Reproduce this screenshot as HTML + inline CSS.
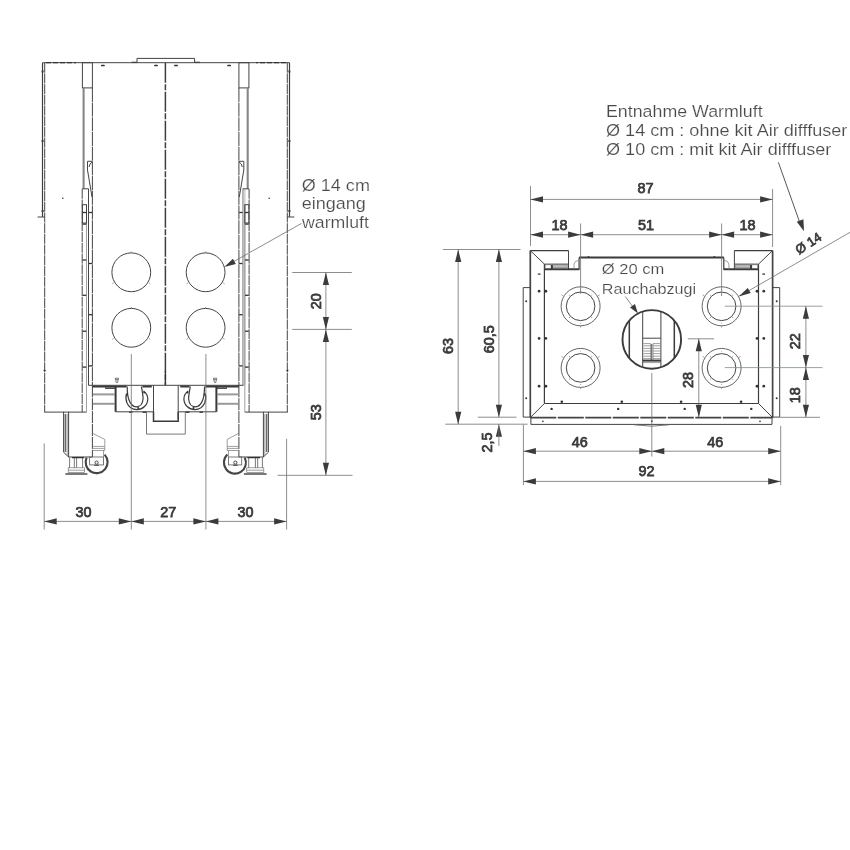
<!DOCTYPE html>
<html lang="de"><head><meta charset="utf-8"><title>Maßzeichnung</title>
<style>
html,body{margin:0;padding:0;background:#fff;overflow:hidden;}
svg{display:block;}
.m{stroke:#444;stroke-width:1.0;fill:none;}
.m2{stroke:#3c3c3c;stroke-width:1.2;fill:none;}
.r{stroke:#444;stroke-width:1.7;fill:none;}
.g{stroke:#777;stroke-width:0.7;fill:none;}
.g1{stroke:#6a6a6a;stroke-width:0.9;fill:none;}
.gb{stroke:#878787;stroke-width:2.1;fill:none;}
.gf{stroke:#666;stroke-width:0.6;fill:#bbb;}
.k{stroke:#333;stroke-width:1.3;fill:none;}
.kb{stroke:#3a3a3a;stroke-width:2;fill:none;}
.kb2{stroke:#3a3a3a;stroke-width:1.5;fill:none;}
.c{stroke:#444;stroke-width:1.0;fill:none;}
.c1{stroke:#555;stroke-width:0.9;fill:none;}
.band{fill:#d2d2d2;stroke:none;}
.fb{stroke:#6a6a6a;stroke-width:1.6;fill:none;}
.rail{stroke:#9a9a9a;stroke-width:2;fill:none;}
.u{stroke:#3c3c3c;stroke-width:1.2;fill:none;}
.w{stroke:#444;stroke-width:2.1;fill:none;}
.fl{stroke:#3a3a3a;stroke-width:1.9;fill:none;}
.d{fill:#333;stroke:none;}
.dd{stroke:#333;stroke-width:1.7;stroke-linecap:round;fill:none;}
.cl{stroke:#3c3c3c;stroke-width:1.5;fill:none;}
.e{stroke:#707070;stroke-width:0.8;fill:none;}
.e2{stroke:#444;stroke-width:0.9;fill:none;}
.eb{stroke:#7c8c96;stroke-width:0.8;fill:none;}
.a{fill:#3a3a3a;stroke:none;}
text{font-family:"Liberation Sans",sans-serif;}
.n{font-size:14.4px;fill:#3a3a3a;stroke:#3a3a3a;stroke-width:0.75;}
.n2{font-size:13px;fill:#3a3a3a;stroke:#3a3a3a;stroke-width:0.7;}
.t{font-size:16.4px;fill:#4a4a4a;stroke:#fff;stroke-width:0.18;}
.t3{font-size:15px;fill:#4a4a4a;stroke:#fff;stroke-width:0.18;}
.t2{font-size:17.2px;fill:#4a4a4a;stroke:#fff;stroke-width:0.18;}
</style></head>
<body>
<svg width="850" height="850" viewBox="0 0 850 850">
<defs><filter id="soft" x="0" y="0" width="850" height="850" filterUnits="userSpaceOnUse"><feGaussianBlur stdDeviation="0.55"/></filter></defs>
<rect x="0" y="0" width="850" height="850" fill="#ffffff"/>
<g filter="url(#soft)">
<g id="front">
<path class="m" d="M137,62.7 V58.4 H194.6 V62.7"/>
<line class="k" x1="131.5" y1="62.4" x2="137.0" y2="62.4"/>
<line class="k" x1="194.6" y1="62.4" x2="200.0" y2="62.4"/>
<line class="m" x1="42.5" y1="62.7" x2="289.5" y2="62.7"/>
<line class="k" x1="46.0" y1="62.7" x2="76.0" y2="62.7" stroke-dasharray="5 2"/>
<line class="m2" x1="42.5" y1="62.7" x2="42.5" y2="217.0"/>
<line class="m" x1="37.6" y1="217.0" x2="44.7" y2="217.0"/>
<line class="m" x1="44.7" y1="62.7" x2="44.7" y2="412.1" stroke-dasharray="10 0.7"/>
<line class="kb" x1="41.6" y1="71.5" x2="43.6" y2="71.5"/>
<line class="kb" x1="41.6" y1="141.0" x2="43.6" y2="141.0"/>
<line class="kb" x1="41.6" y1="211.0" x2="43.6" y2="211.0"/>
<line class="k" x1="43.6" y1="370.5" x2="45.6" y2="370.5"/>
<line class="m" x1="44.2" y1="412.1" x2="86.5" y2="412.1"/>
<rect class="m" x="82.4" y="62.7" width="10.0" height="25.2"/>
<line class="gb" x1="83.6" y1="87.9" x2="83.6" y2="188.8"/>
<line class="m" x1="82.4" y1="188.8" x2="88.5" y2="188.8"/>
<line class="m" x1="88.5" y1="188.8" x2="88.5" y2="385.3"/>
<line class="m" x1="92.4" y1="87.9" x2="92.4" y2="385.3" stroke-dasharray="14 0.7"/>
<line class="m" x1="82.2" y1="188.8" x2="82.2" y2="412.1" stroke-dasharray="10 0.8"/>
<line class="g" x1="86.5" y1="204.7" x2="86.5" y2="412.1"/>
<rect class="m" x="82.4" y="204.7" width="4.1" height="18.3"/>
<path class="m" d="M87.5,161.3 H92.4 M87.5,161.3 V170 L92.0,197 M92.2,162 Q89.5,163.5 89.0,167"/>
<line class="k" x1="82.6" y1="212.5" x2="86.3" y2="212.5"/>
<line class="k" x1="82.6" y1="224.1" x2="86.3" y2="224.1"/>
<line class="k" x1="82.6" y1="260.0" x2="86.3" y2="260.0"/>
<line class="k" x1="82.6" y1="295.3" x2="86.3" y2="295.3"/>
<line class="k" x1="82.6" y1="331.2" x2="86.3" y2="331.2"/>
<line class="k" x1="82.6" y1="367.1" x2="86.3" y2="367.1"/>
<line class="k" x1="88.8" y1="212.5" x2="92.2" y2="212.5"/>
<line class="k" x1="88.8" y1="263.5" x2="92.2" y2="263.5"/>
<line class="k" x1="88.8" y1="314.7" x2="92.2" y2="314.7"/>
<line class="k" x1="88.8" y1="365.9" x2="92.2" y2="365.9"/>
<line class="dd" x1="101.8" y1="65.5" x2="104.0" y2="65.5"/>
<line class="dd" x1="154.9" y1="65.5" x2="157.1" y2="65.5"/>
<circle class="d" cx="62.8" cy="198.2" r="0.8"/>
<circle class="c" cx="131.3" cy="272.3" r="19.4"/>
<line class="g" x1="131.3" y1="252.9" x2="131.3" y2="251.4"/>
<line class="g" x1="148.9" y1="282.9" x2="150.3" y2="283.8"/>
<line class="g" x1="113.7" y1="282.9" x2="112.3" y2="283.8"/>
<circle class="c" cx="131.3" cy="327.8" r="19.4"/>
<line class="g" x1="131.3" y1="308.4" x2="131.3" y2="306.9"/>
<line class="g" x1="148.9" y1="338.4" x2="150.3" y2="339.3"/>
<line class="g" x1="113.7" y1="338.4" x2="112.3" y2="339.3"/>
<line class="m" x1="92.4" y1="385.3" x2="92.4" y2="457.0" stroke-dasharray="12 0.9"/>
<line class="rail" x1="93.0" y1="394.4" x2="114.5" y2="394.4"/>
<line class="rail" x1="93.0" y1="403.8" x2="114.5" y2="403.8"/>
<line class="kb" x1="115.6" y1="386.5" x2="115.6" y2="411.8"/>
<line class="kb" x1="92.4" y1="386.5" x2="126.6" y2="386.5"/>
<line class="k" x1="105.0" y1="388.2" x2="116.0" y2="388.2"/>
<line class="kb" x1="142.4" y1="386.5" x2="151.8" y2="386.5"/>
<line class="m" x1="115.6" y1="411.8" x2="153.5" y2="411.8"/>
<line class="k" x1="129.0" y1="412.2" x2="132.5" y2="412.2"/>
<line class="k" x1="142.5" y1="412.2" x2="146.5" y2="412.2"/>
<path class="g1" d="M115.2,378.2 H118.6 L117.5,382.6 H116.3 Z M115.6,379.6 H118.2"/>
<path class="u" d="M127.2,386.5 C127.2,392.0 127.6,396.0 128.8,399.5 C130.5,404.5 133.0,406.8 136.3,406.8 C139.8,406.8 142.6,404.0 143.0,399.5 C143.3,395.5 142.0,390.5 141.4,386.5"/>
<path class="u" d="M126.6,393.5 C125.6,396.5 125.8,400.0 127.0,403.0 C129.0,407.5 132.5,409.6 136.8,409.6 C142.8,409.6 147.8,405.0 147.8,398.8 C147.8,395.5 146.0,392.8 143.4,391.0"/>
<circle class="d" cx="138.2" cy="408.0" r="1.0"/>
<circle class="d" cx="127.1" cy="394.6" r="1.0"/>
<circle class="d" cx="144.2" cy="392.6" r="1.0"/>
<path class="m" d="M63.6,411.8 V452.2 L68.6,457 H92.4"/>
<line class="m" x1="68.6" y1="411.8" x2="68.6" y2="457.0"/>
<line class="fb" x1="65.4" y1="414.0" x2="65.4" y2="452.0"/>
<line class="g" x1="67.2" y1="414.0" x2="67.2" y2="455.0"/>
<path class="g" d="M92.4,433.2 L104.8,439.4 V450.5 H92.4"/>
<line class="g" x1="92.4" y1="446.4" x2="104.8" y2="446.4"/>
<line class="g" x1="92.4" y1="448.4" x2="104.8" y2="448.4"/>
<path class="w" d="M104.6,454.6 A11,11 0 1 1 86.6,457.6"/>
<rect class="g1" x="89.6" y="457.0" width="13.9" height="7.9" fill="#fff"/>
<line class="g" x1="103.5" y1="450.5" x2="103.5" y2="464.9"/>
<circle class="m" cx="96.6" cy="462.6" r="1.6"/>
<line class="m" x1="94.2" y1="465.3" x2="99.0" y2="465.3"/>
<line class="g1" x1="69.6" y1="457.4" x2="69.6" y2="468.0"/>
<line class="g1" x1="74.3" y1="457.4" x2="74.3" y2="468.0"/>
<line class="g1" x1="76.6" y1="457.4" x2="76.6" y2="468.0"/>
<line class="g1" x1="82.6" y1="457.4" x2="82.6" y2="468.0"/>
<rect class="g" x="68.2" y="467.8" width="16.4" height="4.6"/>
<line class="g" x1="68.2" y1="470.2" x2="84.6" y2="470.2"/>
<line class="k" x1="65.4" y1="474.0" x2="87.4" y2="474.0"/>
<line class="k" x1="72.0" y1="457.6" x2="84.0" y2="457.6"/>
<rect class="band" x="242.6" y="188.8" width="3.0" height="196.5"/>
<line class="k" x1="286.0" y1="62.7" x2="256.0" y2="62.7" stroke-dasharray="5 2"/>
<line class="m2" x1="289.5" y1="62.7" x2="289.5" y2="217.0"/>
<line class="m" x1="294.4" y1="217.0" x2="287.3" y2="217.0"/>
<line class="m" x1="287.3" y1="62.7" x2="287.3" y2="412.1" stroke-dasharray="10 0.7"/>
<line class="kb" x1="290.4" y1="71.5" x2="288.4" y2="71.5"/>
<line class="kb" x1="290.4" y1="141.0" x2="288.4" y2="141.0"/>
<line class="kb" x1="290.4" y1="211.0" x2="288.4" y2="211.0"/>
<line class="k" x1="288.4" y1="370.5" x2="286.4" y2="370.5"/>
<line class="m" x1="287.8" y1="412.1" x2="244.8" y2="412.1"/>
<rect class="m" x="238.9" y="62.7" width="10.0" height="25.2"/>
<line class="gb" x1="247.7" y1="87.9" x2="247.7" y2="188.8"/>
<line class="m" x1="248.9" y1="188.8" x2="242.8" y2="188.8"/>
<line class="g" x1="242.8" y1="188.8" x2="242.8" y2="385.3"/>
<line class="m" x1="238.9" y1="87.9" x2="238.9" y2="385.3" stroke-dasharray="14 0.7"/>
<line class="m" x1="249.1" y1="188.8" x2="249.1" y2="412.1" stroke-dasharray="10 0.8"/>
<line class="g" x1="244.8" y1="204.7" x2="244.8" y2="412.1"/>
<rect class="m" x="244.8" y="204.7" width="4.1" height="18.3"/>
<path class="m" d="M243.8,161.3 H238.9 M243.8,161.3 V170 L239.3,197 M239.1,162 Q241.8,163.5 242.3,167"/>
<line class="k" x1="248.7" y1="212.5" x2="245.0" y2="212.5"/>
<line class="k" x1="248.7" y1="224.1" x2="245.0" y2="224.1"/>
<line class="k" x1="248.7" y1="260.0" x2="245.0" y2="260.0"/>
<line class="k" x1="248.7" y1="295.3" x2="245.0" y2="295.3"/>
<line class="k" x1="248.7" y1="331.2" x2="245.0" y2="331.2"/>
<line class="k" x1="248.7" y1="367.1" x2="245.0" y2="367.1"/>
<line class="k" x1="242.5" y1="212.5" x2="239.1" y2="212.5"/>
<line class="k" x1="242.5" y1="263.5" x2="239.1" y2="263.5"/>
<line class="k" x1="242.5" y1="314.7" x2="239.1" y2="314.7"/>
<line class="k" x1="242.5" y1="365.9" x2="239.1" y2="365.9"/>
<line class="dd" x1="228.0" y1="65.5" x2="230.2" y2="65.5"/>
<line class="dd" x1="174.9" y1="65.5" x2="177.1" y2="65.5"/>
<circle class="d" cx="269.2" cy="198.2" r="0.8"/>
<circle class="c" cx="205.6" cy="272.3" r="19.4"/>
<line class="g" x1="205.6" y1="252.9" x2="205.6" y2="251.4"/>
<line class="g" x1="223.2" y1="282.9" x2="224.6" y2="283.8"/>
<line class="g" x1="188.0" y1="282.9" x2="186.6" y2="283.8"/>
<circle class="c" cx="205.6" cy="327.8" r="19.4"/>
<line class="g" x1="205.6" y1="308.4" x2="205.6" y2="306.9"/>
<line class="g" x1="223.2" y1="338.4" x2="224.6" y2="339.3"/>
<line class="g" x1="188.0" y1="338.4" x2="186.6" y2="339.3"/>
<line class="m" x1="238.9" y1="385.3" x2="238.9" y2="457.0" stroke-dasharray="12 0.9"/>
<line class="rail" x1="238.3" y1="394.4" x2="217.5" y2="394.4"/>
<line class="rail" x1="238.3" y1="403.8" x2="217.5" y2="403.8"/>
<line class="kb" x1="216.4" y1="386.5" x2="216.4" y2="411.8"/>
<line class="kb" x1="238.9" y1="386.5" x2="205.4" y2="386.5"/>
<line class="k" x1="227.0" y1="388.2" x2="216.0" y2="388.2"/>
<line class="kb" x1="189.6" y1="386.5" x2="180.2" y2="386.5"/>
<line class="m" x1="216.4" y1="411.8" x2="178.5" y2="411.8"/>
<line class="k" x1="203.0" y1="412.2" x2="199.5" y2="412.2"/>
<line class="k" x1="189.5" y1="412.2" x2="185.5" y2="412.2"/>
<path class="g1" d="M216.8,378.2 H213.4 L214.5,382.6 H215.7 Z M216.4,379.6 H213.8"/>
<path class="u" d="M204.5,386.5 C204.5,392.0 204.1,396.0 202.9,399.5 C201.2,404.5 198.7,406.8 195.4,406.8 C191.9,406.8 189.1,404.0 188.7,399.5 C188.4,395.5 189.7,390.5 190.3,386.5"/>
<path class="u" d="M205.1,393.5 C206.1,396.5 205.9,400.0 204.7,403.0 C202.7,407.5 199.2,409.6 194.9,409.6 C188.9,409.6 183.9,405.0 183.9,398.8 C183.9,395.5 185.7,392.8 188.3,391.0"/>
<circle class="d" cx="193.5" cy="408.0" r="1.0"/>
<circle class="d" cx="204.6" cy="394.6" r="1.0"/>
<circle class="d" cx="187.5" cy="392.6" r="1.0"/>
<path class="m" d="M268.4,411.8 V452.2 L263.4,457 H238.9"/>
<line class="m" x1="263.4" y1="411.8" x2="263.4" y2="457.0"/>
<line class="fb" x1="266.6" y1="414.0" x2="266.6" y2="452.0"/>
<line class="g" x1="264.8" y1="414.0" x2="264.8" y2="455.0"/>
<path class="g" d="M238.9,433.2 L227.2,439.4 V450.5 H238.9"/>
<line class="g" x1="238.9" y1="446.4" x2="227.2" y2="446.4"/>
<line class="g" x1="238.9" y1="448.4" x2="227.2" y2="448.4"/>
<path class="w" d="M227.4,454.6 A11,11 0 1 0 244.7,457.6"/>
<rect class="g1" x="228.5" y="457.0" width="13.2" height="7.9" fill="#fff"/>
<line class="g" x1="228.5" y1="450.5" x2="228.5" y2="464.9"/>
<circle class="m" cx="235.4" cy="462.6" r="1.6"/>
<line class="m" x1="233.0" y1="465.3" x2="237.8" y2="465.3"/>
<line class="g1" x1="262.4" y1="457.4" x2="262.4" y2="468.0"/>
<line class="g1" x1="257.7" y1="457.4" x2="257.7" y2="468.0"/>
<line class="g1" x1="255.4" y1="457.4" x2="255.4" y2="468.0"/>
<line class="g1" x1="248.7" y1="457.4" x2="248.7" y2="468.0"/>
<rect class="g" x="246.7" y="467.8" width="17.1" height="4.6"/>
<line class="g" x1="263.8" y1="470.2" x2="246.7" y2="470.2"/>
<line class="k" x1="266.6" y1="474.0" x2="243.9" y2="474.0"/>
<line class="k" x1="260.0" y1="457.6" x2="247.3" y2="457.6"/>
<line class="cl" x1="165.4" y1="62.7" x2="165.4" y2="385.3" stroke-dasharray="20 1.5 6 1.5"/>
<line class="k" x1="165.4" y1="371.0" x2="165.4" y2="385.3"/>
<line class="m" x1="88.5" y1="385.3" x2="243.5" y2="385.3"/>
<path class="m" d="M153.5,385.3 V419 M178.2,385.3 V419"/>
<path class="kb2" d="M153.5,411.8 V421.2 H178.2 V411.8"/>
<path class="g1" d="M146.5,411.8 V434.1 H185.3 V411.8"/>
</g>
<g id="fdims">
<line class="e" x1="44.2" y1="443.5" x2="44.2" y2="529.6"/>
<line class="e" x1="131.3" y1="354.0" x2="131.3" y2="529.6"/>
<line class="e" x1="205.9" y1="354.0" x2="205.9" y2="529.6"/>
<line class="e" x1="286.6" y1="438.8" x2="286.6" y2="529.6"/>
<line class="e" x1="44.2" y1="521.4" x2="286.6" y2="521.4"/>
<polygon class="a" points="44.2,521.4 56.7,518.3 56.7,524.5"/>
<polygon class="a" points="131.3,521.4 143.8,518.3 143.8,524.5"/>
<polygon class="a" points="205.9,521.4 218.4,518.3 218.4,524.5"/>
<polygon class="a" points="131.3,521.4 118.8,524.5 118.8,518.3"/>
<polygon class="a" points="205.9,521.4 193.4,524.5 193.4,518.3"/>
<polygon class="a" points="286.6,521.4 274.1,524.5 274.1,518.3"/>
<text class="n" x="83.6" y="516.9" text-anchor="middle">30</text>
<text class="n" x="168.2" y="516.9" text-anchor="middle">27</text>
<text class="n" x="245.4" y="516.9" text-anchor="middle">30</text>
<line class="e" x1="292.2" y1="272.5" x2="351.8" y2="272.5"/>
<line class="e" x1="292.2" y1="329.4" x2="351.8" y2="329.4"/>
<line class="e" x1="277.6" y1="475.3" x2="352.5" y2="475.3"/>
<line class="e" x1="325.9" y1="272.5" x2="325.9" y2="475.3"/>
<polygon class="a" points="325.9,272.5 329.0,285.0 322.8,285.0"/>
<polygon class="a" points="325.9,329.4 322.8,316.9 329.0,316.9"/>
<polygon class="a" points="325.9,329.4 329.0,341.9 322.8,341.9"/>
<polygon class="a" points="325.9,475.3 322.8,462.8 329.0,462.8"/>
<text class="n" x="320.9" y="301.2" text-anchor="middle" transform="rotate(-90 320.9 301.2)">20</text>
<text class="n" x="320.9" y="412.2" text-anchor="middle" transform="rotate(-90 320.9 412.2)">53</text>
<text class="t" x="301.8" y="190.8" text-anchor="start" textLength="68.1" lengthAdjust="spacingAndGlyphs">Ø 14 cm</text>
<text class="t" x="301.8" y="209.4" text-anchor="start" textLength="64.1" lengthAdjust="spacingAndGlyphs">eingang</text>
<text class="t" x="302.0" y="227.9" text-anchor="start" textLength="66.9" lengthAdjust="spacingAndGlyphs">warmluft</text>
<line class="e" x1="301.5" y1="223.4" x2="234.0" y2="261.4"/>
<polygon class="a" points="224.3,267.0 232.9,258.8 235.8,264.0"/>
</g>
<g id="top">
<line class="r" x1="530.3" y1="250.6" x2="530.3" y2="417.6"/>
<line class="m2" x1="530.3" y1="250.6" x2="568.5" y2="250.6"/>
<line class="m" x1="568.5" y1="250.6" x2="568.5" y2="270.0"/>
<line class="m" x1="530.3" y1="250.6" x2="544.4" y2="264.1"/>
<line class="m2" x1="544.4" y1="264.1" x2="544.4" y2="403.5"/>
<line class="m" x1="544.4" y1="264.1" x2="568.5" y2="264.1"/>
<line class="kb" x1="544.4" y1="269.2" x2="579.1" y2="269.2"/>
<rect class="gf" x="552.6" y="264.8" width="14.6" height="3.2"/>
<rect class="g" x="545.2" y="264.8" width="6.6" height="3.6"/>
<line class="kb" x1="551.8" y1="265.0" x2="551.8" y2="269.0"/>
<line class="m2" x1="579.1" y1="257.6" x2="579.1" y2="270.0"/>
<path class="g" d="M574.0,269.5 V264 Q574.6,260.6 578.8,260.4"/>
<line class="m" x1="544.4" y1="403.5" x2="530.3" y2="417.6"/>
<path class="m" d="M530.3,287.6 H523.2 V417.1 H530.3"/>
<circle class="d" cx="539.1" cy="291.2" r="1.35"/>
<circle class="d" cx="545.8" cy="291.2" r="1.45"/>
<circle class="d" cx="539.1" cy="338.4" r="1.35"/>
<circle class="d" cx="545.8" cy="338.4" r="1.45"/>
<circle class="d" cx="539.1" cy="386.2" r="1.35"/>
<circle class="d" cx="545.8" cy="386.2" r="1.45"/>
<line class="k" x1="537.9" y1="274.1" x2="540.5" y2="274.1"/>
<circle class="d" cx="526.2" cy="301.2" r="1.0"/>
<circle class="d" cx="526.2" cy="398.2" r="1.0"/>
<circle class="d" cx="561.8" cy="401.7" r="1.3"/>
<circle class="d" cx="621.8" cy="401.7" r="1.3"/>
<circle class="d" cx="551.6" cy="408.9" r="1.2"/>
<circle class="d" cx="618.2" cy="408.9" r="1.2"/>
<circle class="d" cx="542.9" cy="421.4" r="0.8"/>
<circle class="d" cx="588.5" cy="257.0" r="0.9"/>
<circle class="c1" cx="580.6" cy="306.3" r="19.5"/>
<circle class="c" cx="580.6" cy="306.3" r="14.3"/>
<line class="g" x1="580.6" y1="325.8" x2="580.6" y2="327.5"/>
<line class="g" x1="597.9" y1="295.9" x2="599.6" y2="294.9"/>
<circle class="d" cx="591.8" cy="317.5" r="0.45"/>
<circle class="d" cx="591.8" cy="295.1" r="0.45"/>
<line class="g" x1="563.3" y1="295.9" x2="561.6" y2="294.9"/>
<circle class="d" cx="569.4" cy="317.5" r="0.45"/>
<circle class="d" cx="569.4" cy="295.1" r="0.45"/>
<circle class="d" cx="580.6" cy="289.5" r="0.4"/>
<circle class="d" cx="580.6" cy="323.1" r="0.4"/>
<circle class="c1" cx="580.6" cy="367.9" r="19.5"/>
<circle class="c" cx="580.6" cy="367.9" r="14.3"/>
<line class="g" x1="580.6" y1="387.4" x2="580.6" y2="389.1"/>
<line class="g" x1="597.9" y1="357.5" x2="599.6" y2="356.5"/>
<circle class="d" cx="591.8" cy="379.1" r="0.45"/>
<circle class="d" cx="591.8" cy="356.7" r="0.45"/>
<line class="g" x1="563.3" y1="357.5" x2="561.6" y2="356.5"/>
<circle class="d" cx="569.4" cy="379.1" r="0.45"/>
<circle class="d" cx="569.4" cy="356.7" r="0.45"/>
<circle class="d" cx="580.6" cy="351.1" r="0.4"/>
<circle class="d" cx="580.6" cy="384.7" r="0.4"/>
<line class="r" x1="772.6" y1="250.6" x2="772.6" y2="417.6"/>
<line class="m2" x1="772.6" y1="250.6" x2="734.4" y2="250.6"/>
<line class="m" x1="734.4" y1="250.6" x2="734.4" y2="270.0"/>
<line class="m" x1="772.6" y1="250.6" x2="758.5" y2="264.1"/>
<line class="m2" x1="758.5" y1="264.1" x2="758.5" y2="403.5"/>
<line class="m" x1="758.5" y1="264.1" x2="734.4" y2="264.1"/>
<line class="kb" x1="758.5" y1="269.2" x2="723.8" y2="269.2"/>
<rect class="gf" x="735.7" y="264.8" width="14.6" height="3.2"/>
<rect class="g" x="751.1" y="264.8" width="6.6" height="3.6"/>
<line class="kb" x1="751.1" y1="265.0" x2="751.1" y2="269.0"/>
<line class="m2" x1="723.8" y1="257.6" x2="723.8" y2="270.0"/>
<path class="g" d="M728.9,269.5 V264 Q728.3,260.6 724.1,260.4"/>
<line class="m" x1="758.5" y1="403.5" x2="772.6" y2="417.6"/>
<path class="m" d="M772.6,287.6 H779.7 V417.1 H772.6"/>
<circle class="d" cx="763.8" cy="291.2" r="1.35"/>
<circle class="d" cx="757.1" cy="291.2" r="1.45"/>
<circle class="d" cx="763.8" cy="338.4" r="1.35"/>
<circle class="d" cx="757.1" cy="338.4" r="1.45"/>
<circle class="d" cx="763.8" cy="386.2" r="1.35"/>
<circle class="d" cx="757.1" cy="386.2" r="1.45"/>
<line class="k" x1="765.0" y1="274.1" x2="762.4" y2="274.1"/>
<circle class="d" cx="776.7" cy="301.2" r="1.0"/>
<circle class="d" cx="776.7" cy="398.2" r="1.0"/>
<circle class="d" cx="741.1" cy="401.7" r="1.3"/>
<circle class="d" cx="681.1" cy="401.7" r="1.3"/>
<circle class="d" cx="751.3" cy="408.9" r="1.2"/>
<circle class="d" cx="684.7" cy="408.9" r="1.2"/>
<circle class="d" cx="760.0" cy="421.4" r="0.8"/>
<circle class="d" cx="714.4" cy="257.0" r="0.9"/>
<circle class="c1" cx="721.6" cy="306.3" r="19.5"/>
<circle class="c" cx="721.6" cy="306.3" r="14.3"/>
<line class="g" x1="721.6" y1="325.8" x2="721.6" y2="327.5"/>
<line class="g" x1="738.9" y1="295.9" x2="740.6" y2="294.9"/>
<circle class="d" cx="732.8" cy="317.5" r="0.45"/>
<circle class="d" cx="732.8" cy="295.1" r="0.45"/>
<line class="g" x1="704.3" y1="295.9" x2="702.6" y2="294.9"/>
<circle class="d" cx="710.4" cy="317.5" r="0.45"/>
<circle class="d" cx="710.4" cy="295.1" r="0.45"/>
<circle class="d" cx="721.6" cy="289.5" r="0.4"/>
<circle class="d" cx="721.6" cy="323.1" r="0.4"/>
<circle class="c1" cx="721.6" cy="367.9" r="19.5"/>
<circle class="c" cx="721.6" cy="367.9" r="14.3"/>
<line class="g" x1="721.6" y1="387.4" x2="721.6" y2="389.1"/>
<line class="g" x1="738.9" y1="357.5" x2="740.6" y2="356.5"/>
<circle class="d" cx="732.8" cy="379.1" r="0.45"/>
<circle class="d" cx="732.8" cy="356.7" r="0.45"/>
<line class="g" x1="704.3" y1="357.5" x2="702.6" y2="356.5"/>
<circle class="d" cx="710.4" cy="379.1" r="0.45"/>
<circle class="d" cx="710.4" cy="356.7" r="0.45"/>
<circle class="d" cx="721.6" cy="351.1" r="0.4"/>
<circle class="d" cx="721.6" cy="384.7" r="0.4"/>
<line class="kb" x1="579.1" y1="257.6" x2="723.8" y2="257.6"/>
<line class="m2" x1="544.4" y1="403.5" x2="758.5" y2="403.5"/>
<line class="r" x1="530.3" y1="417.6" x2="772.6" y2="417.6" stroke-dasharray="26 1.5"/>
<path class="m" d="M530.9,417.6 V424.4 H772.0 V417.6"/>
<circle class="d" cx="651.8" cy="421.2" r="0.9"/>
<path class="g1" d="M634,424.8 Q651.8,427.6 669,424.8"/>
<circle class="fl" cx="651.8" cy="339.4" r="29.3"/>
<line class="kb2" x1="629.3" y1="320.6" x2="629.3" y2="358.2"/>
<line class="kb2" x1="674.3" y1="320.6" x2="674.3" y2="358.2"/>
<line class="m" x1="642.7" y1="311.8" x2="642.7" y2="367.0"/>
<line class="m" x1="660.9" y1="311.8" x2="660.9" y2="367.0"/>
<line class="m" x1="642.7" y1="338.2" x2="660.9" y2="338.2"/>
<line class="g" x1="643.4" y1="343.6" x2="650.6" y2="343.6"/>
<line class="g" x1="653.0" y1="343.6" x2="660.2" y2="343.6"/>
<line class="g" x1="643.4" y1="345.8" x2="650.6" y2="345.8"/>
<line class="g" x1="653.0" y1="345.8" x2="660.2" y2="345.8"/>
<line class="g" x1="643.4" y1="348.4" x2="650.6" y2="348.4"/>
<line class="g" x1="653.0" y1="348.4" x2="660.2" y2="348.4"/>
<line class="g" x1="643.4" y1="351.0" x2="650.6" y2="351.0"/>
<line class="g" x1="653.0" y1="351.0" x2="660.2" y2="351.0"/>
<line class="g" x1="643.4" y1="353.6" x2="650.6" y2="353.6"/>
<line class="g" x1="653.0" y1="353.6" x2="660.2" y2="353.6"/>
<line class="g" x1="643.4" y1="356.2" x2="650.6" y2="356.2"/>
<line class="g" x1="653.0" y1="356.2" x2="660.2" y2="356.2"/>
<line class="g" x1="643.4" y1="358.6" x2="650.6" y2="358.6"/>
<line class="g" x1="653.0" y1="358.6" x2="660.2" y2="358.6"/>
<line class="kb" x1="642.7" y1="360.6" x2="660.9" y2="360.6"/>
<line class="g" x1="642.7" y1="362.6" x2="660.9" y2="362.6"/>
<line class="m" x1="651.8" y1="344.0" x2="651.8" y2="361.0"/>
<line class="g" x1="650.6" y1="343.6" x2="650.6" y2="360.0"/>
<line class="g" x1="653.0" y1="343.6" x2="653.0" y2="360.0"/>
</g>
<g id="tdims">
<line class="e" x1="530.5" y1="185.9" x2="530.5" y2="246.0"/>
<line class="e" x1="772.6" y1="189.0" x2="772.6" y2="247.0"/>
<line class="e" x1="530.5" y1="199.4" x2="772.6" y2="199.4"/>
<polygon class="a" points="530.5,199.4 543.0,196.3 543.0,202.5"/>
<polygon class="a" points="772.6,199.4 760.1,202.5 760.1,196.3"/>
<text class="n" x="645.6" y="193.2" text-anchor="middle">87</text>
<line class="e" x1="580.6" y1="223.5" x2="580.6" y2="294.0"/>
<line class="e" x1="721.6" y1="223.5" x2="721.6" y2="296.0"/>
<line class="e" x1="530.5" y1="234.7" x2="772.6" y2="234.7"/>
<polygon class="a" points="530.5,234.7 543.0,231.6 543.0,237.8"/>
<polygon class="a" points="580.6,234.7 568.1,237.8 568.1,231.6"/>
<polygon class="a" points="580.6,234.7 593.1,231.6 593.1,237.8"/>
<polygon class="a" points="721.6,234.7 709.1,237.8 709.1,231.6"/>
<polygon class="a" points="721.6,234.7 734.1,231.6 734.1,237.8"/>
<polygon class="a" points="772.6,234.7 760.1,237.8 760.1,231.6"/>
<text class="n" x="559.4" y="229.7" text-anchor="middle">18</text>
<text class="n" x="645.9" y="230.3" text-anchor="middle">51</text>
<text class="n" x="747.4" y="229.7" text-anchor="middle">18</text>
<line class="e" x1="442.9" y1="249.5" x2="520.6" y2="249.5"/>
<line class="e" x1="445.3" y1="424.2" x2="527.6" y2="424.2"/>
<line class="e" x1="477.8" y1="417.2" x2="516.6" y2="417.2"/>
<line class="e" x1="458.2" y1="249.5" x2="458.2" y2="424.2"/>
<line class="e" x1="498.9" y1="249.5" x2="498.9" y2="417.2"/>
<polygon class="a" points="458.2,249.5 461.3,262.0 455.1,262.0"/>
<polygon class="a" points="458.2,424.2 455.1,411.7 461.3,411.7"/>
<polygon class="a" points="498.9,249.5 502.0,262.0 495.8,262.0"/>
<polygon class="a" points="498.9,417.2 495.8,404.7 502.0,404.7"/>
<polygon class="a" points="498.9,424.2 502.0,436.7 495.8,436.7"/>
<line class="e" x1="498.9" y1="424.2" x2="498.9" y2="446.0"/>
<text class="n" x="453.4" y="345.9" text-anchor="middle" transform="rotate(-90 453.4 345.9)">63</text>
<text class="n" x="493.8" y="339.3" text-anchor="middle" transform="rotate(-90 493.8 339.3)">60,5</text>
<text class="n" x="492.2" y="442.4" text-anchor="middle" transform="rotate(-90 492.2 442.4)">2,5</text>
<line class="e" x1="523.4" y1="424.7" x2="523.4" y2="485.0"/>
<line class="e" x1="780.7" y1="425.9" x2="780.7" y2="485.0"/>
<line class="e" x1="651.8" y1="372.9" x2="651.8" y2="456.5"/>
<line class="e" x1="523.4" y1="451.2" x2="780.7" y2="451.2"/>
<line class="e" x1="523.4" y1="481.4" x2="780.7" y2="481.4"/>
<polygon class="a" points="523.4,451.2 535.9,448.1 535.9,454.3"/>
<polygon class="a" points="651.8,451.2 639.3,454.3 639.3,448.1"/>
<polygon class="a" points="651.8,451.2 664.3,448.1 664.3,454.3"/>
<polygon class="a" points="780.7,451.2 768.2,454.3 768.2,448.1"/>
<polygon class="a" points="523.4,481.4 535.9,478.3 535.9,484.5"/>
<polygon class="a" points="780.7,481.4 768.2,484.5 768.2,478.3"/>
<text class="n" x="579.8" y="447.3" text-anchor="middle">46</text>
<text class="n" x="715.3" y="446.6" text-anchor="middle">46</text>
<text class="n" x="646.4" y="475.6" text-anchor="middle">92</text>
<line class="e" x1="687.8" y1="338.8" x2="714.1" y2="338.8"/>
<line class="e" x1="698.8" y1="338.8" x2="698.8" y2="417.2"/>
<polygon class="a" points="698.8,338.8 701.9,351.3 695.7,351.3"/>
<polygon class="a" points="698.8,417.2 695.7,404.7 701.9,404.7"/>
<text class="n" x="693.2" y="380.0" text-anchor="middle" transform="rotate(-90 693.2 380.0)">28</text>
<line class="eb" x1="724.7" y1="306.2" x2="822.5" y2="306.2"/>
<line class="eb" x1="724.7" y1="367.6" x2="822.5" y2="367.6"/>
<line class="e" x1="780.0" y1="417.3" x2="820.0" y2="417.3"/>
<line class="e" x1="805.9" y1="306.2" x2="805.9" y2="417.3"/>
<polygon class="a" points="805.9,306.2 809.0,318.7 802.8,318.7"/>
<polygon class="a" points="805.9,367.6 802.8,355.1 809.0,355.1"/>
<polygon class="a" points="805.9,367.6 809.0,380.1 802.8,380.1"/>
<polygon class="a" points="805.9,417.3 802.8,404.8 809.0,404.8"/>
<text class="n" x="800.4" y="341.2" text-anchor="middle" transform="rotate(-90 800.4 341.2)">22</text>
<text class="n" x="800.4" y="395.3" text-anchor="middle" transform="rotate(-90 800.4 395.3)">18</text>
<text class="t2" x="606.0" y="117.3" text-anchor="start" textLength="156.6" lengthAdjust="spacingAndGlyphs">Entnahme Warmluft</text>
<text class="t2" x="606.0" y="135.7" text-anchor="start" textLength="241.4" lengthAdjust="spacingAndGlyphs">Ø 14 cm : ohne kit Air difffuser</text>
<text class="t2" x="606.0" y="154.6" text-anchor="start" textLength="225.3" lengthAdjust="spacingAndGlyphs">Ø 10 cm : mit kit Air difffuser</text>
<text class="t3" x="601.8" y="273.5" text-anchor="start" textLength="62.5" lengthAdjust="spacingAndGlyphs">Ø 20 cm</text>
<text class="t3" x="601.8" y="293.6" text-anchor="start" textLength="94.2" lengthAdjust="spacingAndGlyphs">Rauchabzugi</text>
<line class="e2" x1="778.4" y1="162.4" x2="799.6" y2="222.0"/>
<polygon class="a" points="804.0,231.3 796.8,221.7 803.4,219.3"/>
<line class="e" x1="748.0" y1="291.2" x2="850.0" y2="232.3"/>
<polygon class="a" points="738.8,296.5 747.7,287.9 750.7,293.1"/>
<line class="e" x1="625.3" y1="296.5" x2="633.0" y2="307.0"/>
<polygon class="a" points="638.0,313.6 630.1,307.4 634.9,304.1"/>
<text class="n2" x="810.8" y="247.0" text-anchor="middle" transform="rotate(-33 810.8 247.0)">Ø 14</text>
</g>
</g>
</svg>
</body></html>
